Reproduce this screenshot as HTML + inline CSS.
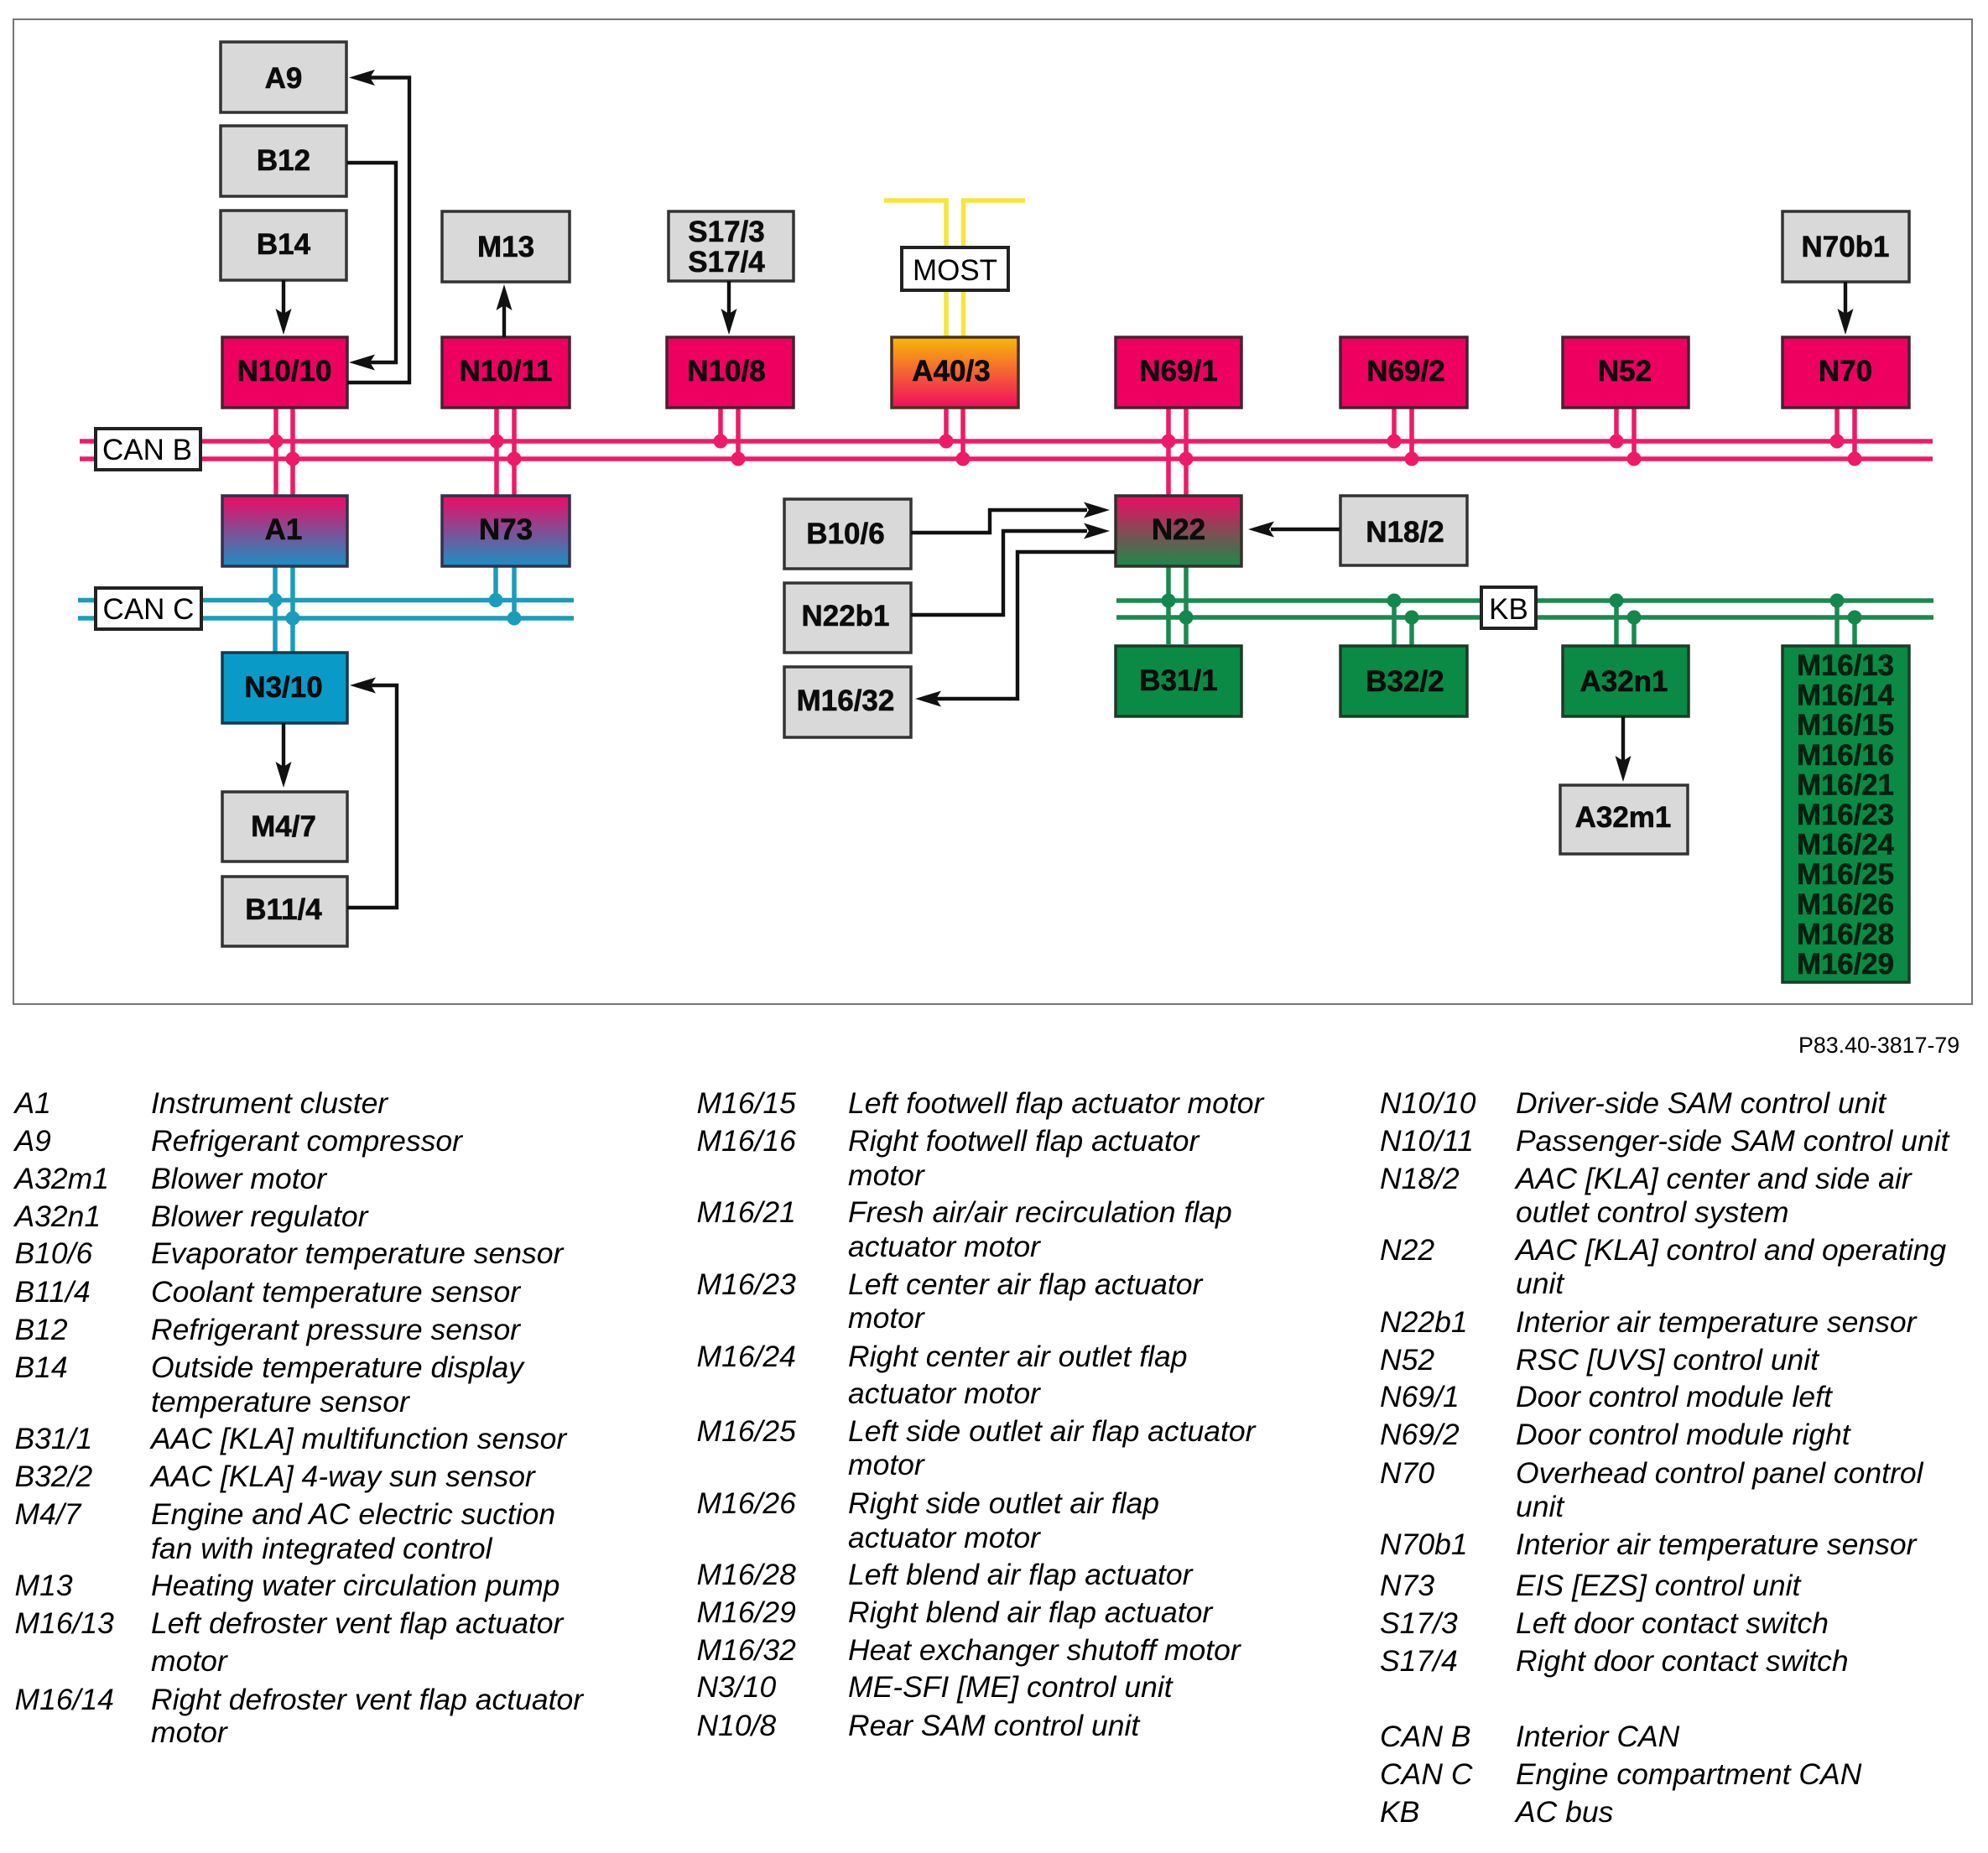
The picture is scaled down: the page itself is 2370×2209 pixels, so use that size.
<!DOCTYPE html>
<html><head><meta charset="utf-8"><style>
html,body{margin:0;padding:0;background:#fff}
svg{display:block}
text{font-family:"Liberation Sans",sans-serif;fill:#000}
.b{font-weight:700;font-size:35px;text-anchor:middle;fill:#0c0c0c;stroke:#0c0c0c;stroke-width:.6}
.r{font-size:35px;text-anchor:middle}
.m{font-weight:700;font-size:34.8px;text-anchor:middle;fill:#04200f;stroke:#04200f;stroke-width:.6}
.l{font-style:italic;font-size:35.5px}
.g{fill:#d9d9d9;stroke:#333;stroke-width:3.5}
.p{fill:#ee0060;stroke:#4a2030;stroke-width:3.5}
.n{fill:#0a8a45;stroke:#1c3c28;stroke-width:3.5}
.w{fill:#fff;stroke:#222;stroke-width:4}
.pk{stroke:#ee1a68;stroke-width:5.5;fill:none}
.bl{stroke:#1a9cbc;stroke-width:5.5;fill:none}
.gr{stroke:#1a8a50;stroke-width:5.5;fill:none}
.y{stroke:#f4e63c;stroke-width:5.5;fill:none}
.k{stroke:#111;stroke-width:4.4;fill:none}
.dp{fill:#ee1a68}.db{fill:#1a9cbc}.dg{fill:#12884c}
</style></head><body>
<svg width="2370" height="2209" viewBox="0 0 2370 2209" xmlns="http://www.w3.org/2000/svg">
<defs>
<linearGradient id="gb" x1="0" y1="0" x2="0" y2="1"><stop offset="0" stop-color="#ee0a64"/><stop offset="1" stop-color="#1a90c4"/></linearGradient>
<linearGradient id="go" x1="0" y1="0" x2="0" y2="1"><stop offset="0" stop-color="#f8b808"/><stop offset="1" stop-color="#f00c60"/></linearGradient>
<linearGradient id="gg" x1="0" y1="0" x2="0" y2="1"><stop offset="0" stop-color="#ee0a64"/><stop offset="1" stop-color="#1c8a48"/></linearGradient>
</defs>
<rect width="2370" height="2209" fill="#fff"/>
<rect x="16" y="23" width="2335" height="1174" fill="#fff" stroke="#777" stroke-width="2"/>

<!-- yellow MOST -->
<path class="y" d="M1054 239H1128V401M1222 239H1148.500V401"/>

<!-- pink bus -->
<path class="pk" d="M95 526H2304M95 547H2304"/>
<path class="pk" d="M329 486V591M349 486V591M592 486V591M613 486V591M859 486V526M880 486V547M1128 486V526M1148 486V547M1393 486V591M1414 486V591M1662 486V526M1683 486V547M1927 486V526M1948 486V547M2190 486V526M2211 486V547"/>
<g class="dp">
<circle cx="329" cy="526" r="8.500"/><circle cx="349" cy="547" r="8.500"/>
<circle cx="592" cy="526" r="8.500"/><circle cx="613" cy="547" r="8.500"/>
<circle cx="859" cy="526" r="8.500"/><circle cx="880" cy="547" r="8.500"/>
<circle cx="1128" cy="526" r="8.500"/><circle cx="1148" cy="547" r="8.500"/>
<circle cx="1393" cy="526" r="8.500"/><circle cx="1414" cy="547" r="8.500"/>
<circle cx="1662" cy="526" r="8.500"/><circle cx="1683" cy="547" r="8.500"/>
<circle cx="1927" cy="526" r="8.500"/><circle cx="1948" cy="547" r="8.500"/>
<circle cx="2190" cy="526" r="8.500"/><circle cx="2211" cy="547" r="8.500"/>
</g>

<!-- blue bus -->
<path class="bl" d="M93 715.500H684M93 737H684"/>
<path class="bl" d="M328 675V778M349 675V778M591 660V715M613 660V737"/>
<g class="db">
<circle cx="328" cy="715.500" r="8.500"/><circle cx="349" cy="737" r="8.500"/>
<circle cx="591" cy="715.500" r="8.500"/><circle cx="613" cy="737" r="8.500"/>
</g>

<!-- green bus -->
<path class="gr" d="M1331 716H2305M1331 736H2305"/>
<path class="gr" d="M1393 675V768M1414 675V768M1662 716V769M1683 736V769M1927 716V769M1948 736V769M2190 716V769M2211 736V769"/>
<g class="dg">
<circle cx="1393" cy="716" r="8.500"/><circle cx="1414" cy="736" r="8.500"/>
<circle cx="1662" cy="716" r="8.500"/><circle cx="1683" cy="736" r="8.500"/>
<circle cx="1927" cy="716" r="8.500"/><circle cx="1948" cy="736" r="8.500"/>
<circle cx="2190" cy="716" r="8.500"/><circle cx="2211" cy="736" r="8.500"/>
</g>

<!-- boxes -->
<rect class="g" x="263" y="50" width="150" height="84"/>
<rect class="g" x="263" y="150" width="150" height="84"/>
<rect class="g" x="263" y="251" width="150" height="83"/>
<rect class="g" x="527" y="252" width="152" height="84"/>
<rect class="g" x="797" y="252" width="149" height="83"/>
<rect class="g" x="2125" y="252" width="151" height="84"/>
<rect class="p" x="265" y="402" width="149" height="84"/>
<rect class="p" x="527" y="402" width="152" height="84"/>
<rect class="p" x="795" y="402" width="151" height="84"/>
<rect x="1063" y="402" width="151" height="84" fill="url(#go)" stroke="#4a3020" stroke-width="3.500"/>
<rect class="p" x="1330" y="402" width="150" height="84"/>
<rect class="p" x="1598" y="402" width="151" height="84"/>
<rect class="p" x="1863" y="402" width="150" height="84"/>
<rect class="p" x="2125" y="402" width="151" height="84"/>
<rect x="265" y="591" width="149" height="84" fill="url(#gb)" stroke="#33304a" stroke-width="3.500"/>
<rect x="527" y="591" width="152" height="84" fill="url(#gb)" stroke="#33304a" stroke-width="3.500"/>
<rect x="1330" y="591" width="150" height="84" fill="url(#gg)" stroke="#33302a" stroke-width="3.500"/>
<rect class="g" x="935" y="595" width="151" height="83"/>
<rect class="g" x="935" y="695" width="151" height="83"/>
<rect class="g" x="935" y="795" width="151" height="84"/>
<rect class="g" x="1598" y="591" width="151" height="83"/>
<rect x="265" y="778" width="149" height="84" fill="#0a9ac8" stroke="#123c50" stroke-width="3.500"/>
<rect class="g" x="265" y="944" width="149" height="83"/>
<rect class="g" x="265" y="1045" width="149" height="83"/>
<rect class="n" x="1330" y="770" width="150" height="84"/>
<rect class="n" x="1598" y="770" width="151" height="84"/>
<rect class="n" x="1863" y="770" width="150" height="84"/>
<rect class="n" x="2125" y="770" width="151" height="401"/>
<rect class="g" x="1860" y="936" width="152" height="82"/>

<rect class="w" x="114" y="511" width="125" height="49"/>
<rect class="w" x="114" y="701" width="126" height="49"/>
<rect class="w" x="1075" y="295" width="127" height="51"/>
<rect class="w" x="1766" y="700" width="65" height="49"/>

<!-- black connectors -->
<path class="k" d="M414 456H488V92.500H440M414 194H472V432H440M338 334V375M601 402V362M869 335V375M2200 336V375M338 862V915M1935 854V908M414 1082H473V817H440"/>
<path class="k" d="M1086 635H1180V608H1296M1086 733H1196V633H1296M1329 658H1213V833H1115M1597 631H1515"/>
<g fill="#111">
<polygon points="416,92.500 447,83 441,92.500 447,102"/>
<polygon points="416,432 447,422.500 441,432 447,441.500"/>
<polygon points="338,399 328.500,368 338,374 347.500,368"/>
<polygon points="601,339 591.500,370 601,364 610.500,370"/>
<polygon points="869,399 859.500,368 869,374 878.500,368"/>
<polygon points="2200,399 2190.500,368 2200,374 2209.500,368"/>
<polygon points="338,939 328.500,908 338,914 347.500,908"/>
<polygon points="1935,932 1925.500,901 1935,907 1944.500,901"/>
<polygon points="417,817 448,807.500 442,817 448,826.500"/>
<polygon points="1323,608 1292,598.500 1298,608 1292,617.500"/>
<polygon points="1323,633 1292,623.500 1298,633 1292,642.500"/>
<polygon points="1091,833 1122,823.500 1116,833 1122,842.500"/>
<polygon points="1488,631 1519,621.500 1513,631 1519,640.500"/>
</g>

<!-- box labels -->
<text class="b" x="338" y="105">A9</text>
<text class="b" x="338" y="203">B12</text>
<text class="b" x="338" y="303">B14</text>
<text class="b" x="603" y="306">M13</text>
<text class="b" x="866" y="288">S17/3</text>
<text class="b" x="866" y="324">S17/4</text>
<text class="b" x="2200" y="306">N70b1</text>
<text class="b" x="339" y="454">N10/10</text>
<text class="b" x="603" y="454">N10/11</text>
<text class="b" x="866" y="454">N10/8</text>
<text class="b" x="1134" y="454">A40/3</text>
<text class="b" x="1405" y="454">N69/1</text>
<text class="b" x="1676" y="454">N69/2</text>
<text class="b" x="1937" y="454">N52</text>
<text class="b" x="2200" y="454">N70</text>
<text class="b" x="338" y="643">A1</text>
<text class="b" x="603" y="643">N73</text>
<text class="b" x="1405" y="643">N22</text>
<text class="b" x="1008" y="648">B10/6</text>
<text class="b" x="1008" y="746">N22b1</text>
<text class="b" x="1008" y="847">M16/32</text>
<text class="b" x="1675" y="646">N18/2</text>
<text class="b" x="338" y="831">N3/10</text>
<text class="b" x="338" y="997">M4/7</text>
<text class="b" x="338" y="1096">B11/4</text>
<text class="b" x="1405" y="823">B31/1</text>
<text class="b" x="1675" y="824">B32/2</text>
<text class="b" x="1936" y="824">A32n1</text>
<text class="b" x="1935" y="986">A32m1</text>
<text class="m" x="2200" y="805">M16/13</text>
<text class="m" x="2200" y="840.600">M16/14</text>
<text class="m" x="2200" y="876.200">M16/15</text>
<text class="m" x="2200" y="911.800">M16/16</text>
<text class="m" x="2200" y="947.400">M16/21</text>
<text class="m" x="2200" y="983">M16/23</text>
<text class="m" x="2200" y="1018.600">M16/24</text>
<text class="m" x="2200" y="1054.200">M16/25</text>
<text class="m" x="2200" y="1089.800">M16/26</text>
<text class="m" x="2200" y="1125.400">M16/28</text>
<text class="m" x="2200" y="1161">M16/29</text>
<text class="r" x="175.500" y="548">CAN B</text>
<text class="r" x="177" y="738">CAN C</text>
<text class="r" x="1138.500" y="334">MOST</text>
<text class="r" x="1798.500" y="738">KB</text>

<text x="2144" y="1255" font-size="26.800">P83.40-3817-79</text>

<!-- legend column 1 -->
<g class="l">
<text class="l" x="17.500" y="1327">A1</text><text class="l" x="180" y="1327">Instrument cluster</text>
<text class="l" x="17.500" y="1372">A9</text><text class="l" x="180" y="1372">Refrigerant compressor</text>
<text class="l" x="17.500" y="1417">A32m1</text><text class="l" x="180" y="1417">Blower motor</text>
<text class="l" x="17.500" y="1462">A32n1</text><text class="l" x="180" y="1462">Blower regulator</text>
<text class="l" x="17.500" y="1506">B10/6</text><text class="l" x="180" y="1506">Evaporator temperature sensor</text>
<text class="l" x="17.500" y="1552">B11/4</text><text class="l" x="180" y="1552">Coolant temperature sensor</text>
<text class="l" x="17.500" y="1597">B12</text><text class="l" x="180" y="1597">Refrigerant pressure sensor</text>
<text class="l" x="17.500" y="1642">B14</text><text class="l" x="180" y="1642">Outside temperature display</text>
<text class="l" x="180" y="1683">temperature sensor</text>
<text class="l" x="17.500" y="1727">B31/1</text><text class="l" x="180" y="1727">AAC [KLA] multifunction sensor</text>
<text class="l" x="17.500" y="1772">B32/2</text><text class="l" x="180" y="1772">AAC [KLA] 4-way sun sensor</text>
<text class="l" x="17.500" y="1817">M4/7</text><text class="l" x="180" y="1817">Engine and AC electric suction</text>
<text class="l" x="180" y="1858">fan with integrated control</text>
<text class="l" x="17.500" y="1902">M13</text><text class="l" x="180" y="1902">Heating water circulation pump</text>
<text class="l" x="17.500" y="1947">M16/13</text><text class="l" x="180" y="1947">Left defroster vent flap actuator</text>
<text class="l" x="180" y="1992">motor</text>
<text class="l" x="17.500" y="2038">M16/14</text><text class="l" x="180" y="2038">Right defroster vent flap actuator</text>
<text class="l" x="180" y="2077">motor</text>

<!-- legend column 2 -->
<text class="l" x="830.500" y="1327">M16/15</text><text class="l" x="1011" y="1327">Left footwell flap actuator motor</text>
<text class="l" x="830.500" y="1372">M16/16</text><text class="l" x="1011" y="1372">Right footwell flap actuator</text>
<text class="l" x="1011" y="1413">motor</text>
<text class="l" x="830.500" y="1457">M16/21</text><text class="l" x="1011" y="1457">Fresh air/air recirculation flap</text>
<text class="l" x="1011" y="1498">actuator motor</text>
<text class="l" x="830.500" y="1543">M16/23</text><text class="l" x="1011" y="1543">Left center air flap actuator</text>
<text class="l" x="1011" y="1583">motor</text>
<text class="l" x="830.500" y="1629">M16/24</text><text class="l" x="1011" y="1629">Right center air outlet flap</text>
<text class="l" x="1011" y="1673">actuator motor</text>
<text class="l" x="830.500" y="1718">M16/25</text><text class="l" x="1011" y="1718">Left side outlet air flap actuator</text>
<text class="l" x="1011" y="1758">motor</text>
<text class="l" x="830.500" y="1804">M16/26</text><text class="l" x="1011" y="1804">Right side outlet air flap</text>
<text class="l" x="1011" y="1845">actuator motor</text>
<text class="l" x="830.500" y="1889">M16/28</text><text class="l" x="1011" y="1889">Left blend air flap actuator</text>
<text class="l" x="830.500" y="1934">M16/29</text><text class="l" x="1011" y="1934">Right blend air flap actuator</text>
<text class="l" x="830.500" y="1979">M16/32</text><text class="l" x="1011" y="1979">Heat exchanger shutoff motor</text>
<text class="l" x="830.500" y="2023">N3/10</text><text class="l" x="1011" y="2023">ME-SFI [ME] control unit</text>
<text class="l" x="830.500" y="2069">N10/8</text><text class="l" x="1011" y="2069">Rear SAM control unit</text>

<!-- legend column 3 -->
<text class="l" x="1645" y="1327">N10/10</text><text class="l" x="1807" y="1327">Driver-side SAM control unit</text>
<text class="l" x="1645" y="1372">N10/11</text><text class="l" x="1807" y="1372">Passenger-side SAM control unit</text>
<text class="l" x="1645" y="1417">N18/2</text><text class="l" x="1807" y="1417">AAC [KLA] center and side air</text>
<text class="l" x="1807" y="1457">outlet control system</text>
<text class="l" x="1645" y="1502">N22</text><text class="l" x="1807" y="1502">AAC [KLA] control and operating</text>
<text class="l" x="1807" y="1542">unit</text>
<text class="l" x="1645" y="1588">N22b1</text><text class="l" x="1807" y="1588">Interior air temperature sensor</text>
<text class="l" x="1645" y="1633">N52</text><text class="l" x="1807" y="1633">RSC [UVS] control unit</text>
<text class="l" x="1645" y="1677">N69/1</text><text class="l" x="1807" y="1677">Door control module left</text>
<text class="l" x="1645" y="1722">N69/2</text><text class="l" x="1807" y="1722">Door control module right</text>
<text class="l" x="1645" y="1768">N70</text><text class="l" x="1807" y="1768">Overhead control panel control</text>
<text class="l" x="1807" y="1808">unit</text>
<text class="l" x="1645" y="1853">N70b1</text><text class="l" x="1807" y="1853">Interior air temperature sensor</text>
<text class="l" x="1645" y="1902">N73</text><text class="l" x="1807" y="1902">EIS [EZS] control unit</text>
<text class="l" x="1645" y="1947">S17/3</text><text class="l" x="1807" y="1947">Left door contact switch</text>
<text class="l" x="1645" y="1992">S17/4</text><text class="l" x="1807" y="1992">Right door contact switch</text>
<text class="l" x="1645" y="2082">CAN B</text><text class="l" x="1807" y="2082">Interior CAN</text>
<text class="l" x="1645" y="2127">CAN C</text><text class="l" x="1807" y="2127">Engine compartment CAN</text>
<text class="l" x="1645" y="2172">KB</text><text class="l" x="1807" y="2172">AC bus</text>
</g>
</svg>
</body></html>
